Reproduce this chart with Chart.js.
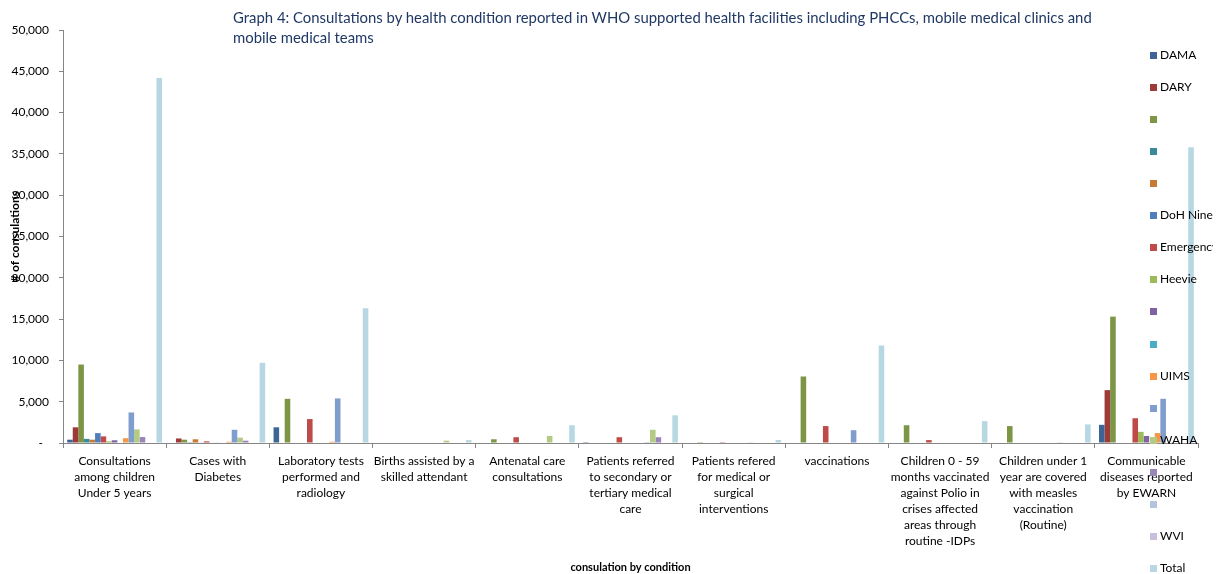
<!DOCTYPE html>
<html>
<head>
<meta charset="utf-8">
<script src="https://cdn.jsdelivr.net/npm/chart.js@4/dist/chart.umd.min.js"></script>
<style>
  html, body { margin: 0; padding: 0; background: #fff; overflow: hidden; }
  #wrap { position: relative; width: 1226px; height: 574px; }
  #title { position: absolute; left: 233px; top: 7px; font-family: Lato, "Open Sans", sans-serif; font-size: 14px; line-height: 20px; color: #1F3864; white-space: nowrap; }
  #legend { position: absolute; left: 1150px; top: 0; width: 63px; height: 574px; overflow: hidden; font-family: Lato, sans-serif; font-size: 12px; color: #000; }
  .item { position: absolute; left: 0; height: 14px; line-height: 14px; white-space: nowrap; }
  .box { display: inline-block; width: 7px; height: 7px; margin-right: 3px; vertical-align: 0px; }
</style>
</head>
<body>
<div id="wrap">
  <canvas id="c" width="1226" height="574"></canvas>
  <div id="title"><span id="t1">Graph 4: Consultations by health condition reported in WHO supported health facilities including PHCCs, mobile medical clinics and</span><br><span>mobile medical teams</span></div>
  <div id="legend"></div>
</div>
<script>
const categories = [
  ["Consultations", "among children", "Under 5 years"],
  ["Cases with", "Diabetes"],
  ["Laboratory tests", "performed and", "radiology"],
  ["Births assisted by a", "skilled attendant"],
  ["Antenatal care", "consultations"],
  ["Patients referred", "to secondary or", "tertiary medical", "care"],
  ["Patients refered", "for medical or", "surgical", "interventions"],
  ["vaccinations"],
  ["Children 0 - 59", "months vaccinated", "against Polio in", "crises affected", "areas through", "routine -IDPs"],
  ["Children under 1", "year are covered", "with measles", "vaccination", "(Routine)"],
  ["Communicable", "diseases reported", "by EWARN"]
];

const seriesNames = ["DAMA", "DARY", "", "", "", "DoH Ninewa", "Emergency", "Heevie", "", "", "UIMS", "", "WAHA", "", "", "WVI", "Total"];

const dama      = [400, 0, 1900, 0, 0, 100, 0, 0, 0, 0, 2200];
const dary      = [1900, 550, 0, 0, 0, 0, 0, 0, 0, 0, 6400];
const series3   = [9500, 400, 5350, 0, 450, 0, 100, 8050, 2150, 2050, 15300];
const series4   = [500, 100, 0, 0, 0, 0, 0, 0, 0, 0, 0];
const series5   = [400, 450, 0, 0, 0, 0, 0, 0, 0, 0, 0];
const dohNinewa = [1200, 50, 0, 0, 0, 0, 0, 0, 0, 0, 0];
const emergency = [800, 200, 2900, 0, 700, 700, 100, 2050, 350, 0, 3000];
const heevie    = [200, 50, 0, 0, 0, 0, 0, 0, 0, 0, 1350];
const series9   = [330, 50, 0, 0, 0, 0, 0, 0, 0, 0, 850];
const series10  = [0, 0, 0, 0, 0, 0, 0, 0, 0, 0, 0];
const uims      = [580, 150, 150, 0, 0, 0, 0, 0, 0, 0, 1200];
const series12  = [3700, 1600, 5400, 0, 0, 100, 80, 1550, 60, 80, 5350];
const waha      = [1650, 650, 0, 280, 850, 1600, 0, 0, 0, 0, 0];
const series14  = [720, 280, 0, 0, 0, 700, 0, 0, 0, 0, 0];
const series15  = [0, 0, 0, 0, 0, 0, 0, 0, 0, 0, 0];
const wvi       = [0, 0, 0, 0, 0, 0, 0, 0, 0, 0, 0];
const total     = [44200, 9700, 16300, 350, 2150, 3350, 360, 11800, 2650, 2250, 35800];

const yTicks = [0, 5000, 10000, 15000, 20000, 25000, 30000, 35000, 40000, 45000, 50000];

const seriesValues = [dama, dary, series3, series4, series5, dohNinewa, emergency, heevie, series9, series10, uims, series12, waha, series14, series15, wvi, total];
const seriesColors = ["#3C6496", "#9C3B38", "#7D9645", "#3A8A9C", "#C87A34", "#4F7EBC", "#BE4B48", "#9BBB59", "#7E62A1", "#4BACC6", "#F79646", "#7F9DCD", "#B4CB86", "#9985B8", "#B4C3E0", "#C9BFDA", "#B7D7E3"];

const datasets = seriesValues.map((vals, i) => ({
  label: seriesNames[i],
  data: vals,
  backgroundColor: seriesColors[i],
  borderWidth: 0,
  categoryPercentage: 17 / 18.5,
  barPercentage: 1
}));

const axisColor = "#868686";

const chart = new Chart(document.getElementById("c"), {
  type: "bar",
  data: { labels: categories, datasets },
  options: {
    responsive: false,
    animation: false,
    devicePixelRatio: 1,
    layout: { padding: { left: 0, right: 28, top: 30, bottom: 0 } },
    plugins: { legend: { display: false }, tooltip: { enabled: false } },
    scales: {
      x: {
        grid: { display: true, drawOnChartArea: false, drawTicks: true, tickLength: 5, color: axisColor, offset: true },
        border: { color: axisColor },
        ticks: { autoSkip: false, maxRotation: 0, minRotation: 0, padding: 5, color: "#000", font: { family: "Lato", size: 12, lineHeight: 1.34 } },
        title: { display: true, text: "consulation by condition", color: "#000", font: { family: "Lato", size: 11, weight: "bold" }, padding: { top: 0, bottom: 0 } },
        afterFit(s) { s.height = 131; }
      },
      y: {
        min: 0, max: 50000,
        afterBuildTicks(s) { s.ticks = yTicks.map(v => ({ value: v })); },
        grid: { display: true, drawOnChartArea: false, drawTicks: true, tickLength: 4, color: axisColor },
        border: { color: axisColor },
        ticks: {
          padding: 10, color: "#000", font: { family: "Lato", size: 12 },
          callback: v => v === 0 ? "-  " : v.toLocaleString("en-US")
        },
        title: { display: true, text: "# of consulations", color: "#000", font: { family: "Lato", size: 12, weight: "bold" }, padding: { top: 8, bottom: 0 } },
        afterFit(s) { s.width = 63; }
      }
    }
  }
});

// legend overlay
const legendEl = document.getElementById("legend");
chart.data.datasets.forEach((ds, i) => {
  const item = document.createElement("div");
  item.className = "item";
  item.style.top = (55 + 32.06 * i - 7) + "px";
  const box = document.createElement("span");
  box.className = "box";
  box.style.background = ds.backgroundColor;
  item.appendChild(box);
  item.appendChild(document.createTextNode(ds.label));
  legendEl.appendChild(item);
});

// fit title first line to reference width
const t1 = document.getElementById("t1");
const titleEl = document.getElementById("title");
const w = t1.getBoundingClientRect().width;
if (w > 0) titleEl.style.fontSize = (14 * 859 / w).toFixed(2) + "px";
</script>
</body>
</html>
